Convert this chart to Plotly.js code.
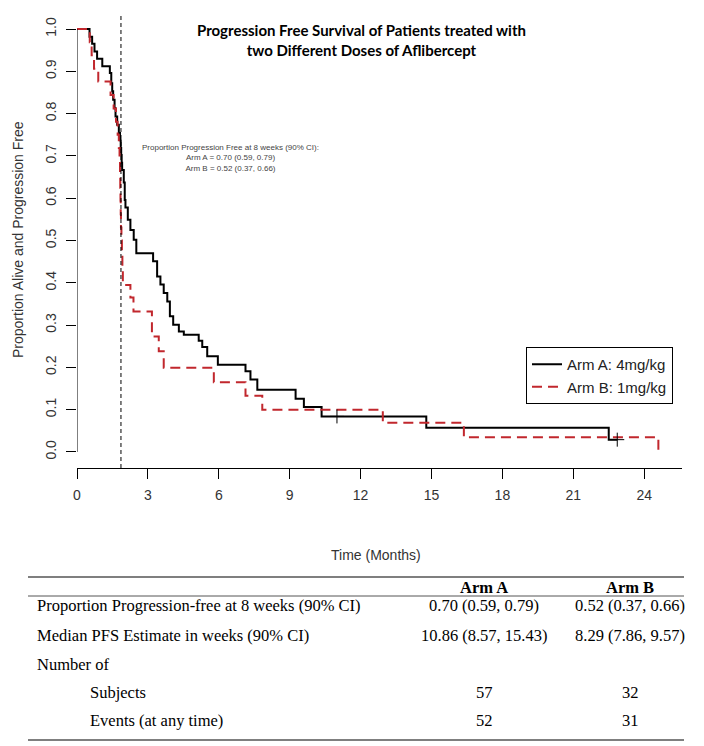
<!DOCTYPE html>
<html>
<head>
<meta charset="utf-8">
<script src="https://cdn.plot.ly/plotly-3.0.1.min.js"></script>
<style>
  body { margin: 0; background: #fff; }
  #chart { width: 704px; height: 746px; }
</style>
</head>
<body>
<div id="chart"></div>
<script>
// Kaplan-Meier step values (months, proportion)
let armA_t = [0, 0.53, 0.64, 0.74, 0.85, 1.07, 1.39, 1.45, 1.49, 1.53, 1.59, 1.63, 1.70, 1.77, 1.82, 1.85, 1.87, 1.89, 1.91, 1.98, 2.02, 2.05, 2.15, 2.26, 2.40, 2.51, 3.22, 3.39, 3.53, 3.67, 3.82, 3.93, 4.07, 4.31, 4.52, 5.15, 5.30, 5.51, 5.96, 7.13, 7.34, 7.63, 9.25, 9.60, 10.35, 14.78, 22.50, 22.86];
let armA_s = [1.0, 0.982, 0.965, 0.947, 0.930, 0.912, 0.896, 0.872, 0.853, 0.833, 0.813, 0.793, 0.774, 0.754, 0.737, 0.719, 0.702, 0.684, 0.667, 0.637, 0.596, 0.578, 0.549, 0.525, 0.502, 0.470, 0.451, 0.415, 0.396, 0.376, 0.356, 0.321, 0.301, 0.285, 0.277, 0.263, 0.248, 0.226, 0.206, 0.191, 0.171, 0.147, 0.126, 0.106, 0.084, 0.057, 0.029, 0.029];

let armB_t = [0, 0.54, 0.62, 0.72, 0.90, 1.42, 1.55, 1.65, 1.72, 1.77, 1.80, 1.82, 1.83, 1.84, 1.85, 1.86, 1.88, 1.90, 1.92, 1.94, 2.26, 2.39, 3.17, 3.46, 3.67, 5.79, 7.13, 7.84, 12.94, 16.37, 24.60];
let armB_s = [1.0, 0.969, 0.938, 0.906, 0.876, 0.844, 0.812, 0.781, 0.750, 0.719, 0.688, 0.656, 0.625, 0.594, 0.562, 0.531, 0.500, 0.469, 0.437, 0.395, 0.365, 0.332, 0.273, 0.238, 0.199, 0.165, 0.133, 0.100, 0.069, 0.035, 0.0];

// censored observations
let censA_t = [11.0, 22.86];
let censA_s = [0.084, 0.029];

let week8 = 1.86;

let xTicks = [0, 3, 6, 9, 12, 15, 18, 21, 24];
let yTicks = [0, 0.1, 0.2, 0.3, 0.4, 0.5, 0.6, 0.7, 0.8, 0.9, 1.0];

// summary table
let rowLabels = ["Proportion Progression-free at 8 weeks (90% CI)", "Median PFS Estimate in weeks (90% CI)", "Number of", "Subjects", "Events (at any time)"];
let rowIndent = [false, false, false, true, true];
let colHeads = ["Arm A", "Arm B"];
let colA = ["0.70 (0.59, 0.79)", "10.86 (8.57, 15.43)", "", "57", "52"];
let colB = ["0.52 (0.37, 0.66)", "8.29 (7.86, 9.57)", "", "32", "31"];

// plot area in pixels
let L = 77, R = 22, T = 13, B = 278;
let W = 704, H = 746;
let pw = W - L - R, ph = H - T - B;
function px(X) { return (X - L) / pw; }
function py(Y) { return (H - B - Y) / ph; }

let traces = [
    {
        x: armA_t, y: armA_s,
        mode: 'lines', type: 'scatter',
        line: {shape: 'hv', color: '#000', width: 2},
        name: 'Arm A: 4mg/kg'
    },
    {
        x: armB_t, y: armB_s,
        mode: 'lines', type: 'scatter',
        line: {shape: 'hv', color: '#c1272d', width: 2, dash: '10px,6px'},
        name: 'Arm B: 1mg/kg'
    },
    {
        x: censA_t, y: censA_s,
        mode: 'markers', type: 'scatter',
        marker: {symbol: 'cross-thin', size: 10, line: {color: '#000', width: 1}},
        showlegend: false, hoverinfo: 'skip'
    }
];

let tickFont = {family: 'Liberation Sans, Arial, sans-serif', size: 14, color: '#333'};
let serif = 'Liberation Serif, Times New Roman, serif';
let tableFont = {family: serif, size: 16.5, color: '#000'};

function note(X, Y, text, extra) {
    let a = {xref: 'paper', yref: 'paper', x: px(X), y: py(Y), text: text,
             showarrow: false, xanchor: 'center', yanchor: 'middle'};
    return Object.assign(a, extra || {});
}

let annotations = [
    note(361, 40, '<b>Progression Free Survival of Patients treated with<br>two Different Doses of Aflibercept</b>',
         {align: 'center', font: {family: 'Lato, sans-serif', size: 15, color: '#000'}}),
    note(230, 158, 'Proportion Progression Free at 8 weeks (90% CI):<br>Arm A = 0.70 (0.59, 0.79)<br>Arm B = 0.52 (0.37, 0.66)',
         {align: 'center', font: {family: 'Liberation Sans, Arial, sans-serif', size: 8, color: '#444'}}),
    note(376, 555, 'Time (Months)', {font: tickFont}),
    note(18, 240, 'Proportion Alive and Progression Free', {textangle: -90, font: tickFont})
];

// table text
let headY = 587;
let rowY = [605, 635, 664, 692, 720];
let colAx = 484, colBx = 630;
annotations.push(note(colAx, headY, '<b>' + colHeads[0] + '</b>', {font: tableFont}));
annotations.push(note(colBx, headY, '<b>' + colHeads[1] + '</b>', {font: tableFont}));
for (let i = 0; i < rowLabels.length; i++) {
    annotations.push(note(rowIndent[i] ? 88 : 35, rowY[i], rowLabels[i], {xanchor: 'left', font: tableFont}));
    if (colA[i] !== "") {
        annotations.push(note(colAx, rowY[i], colA[i], {font: tableFont}));
        annotations.push(note(colBx, rowY[i], colB[i], {font: tableFont}));
    }
}

let shapes = [
    // 8-week reference line
    {type: 'line', xref: 'x', yref: 'paper', x0: week8, x1: week8, y0: 0, y1: 1, line: {color: '#000', width: 1, dash: '4px,3px'}},
    // y axis line, only between first and last tick
    {type: 'line', xref: 'x', yref: 'y', x0: 0, x1: 0, y0: 0, y1: 1, line: {color: '#000', width: 1}},
    // table rules
    {type: 'line', xref: 'paper', yref: 'paper', x0: px(28), x1: px(684), y0: py(577), y1: py(577), line: {color: '#555', width: 1.5}},
    {type: 'line', xref: 'paper', yref: 'paper', x0: px(28), x1: px(684), y0: py(596), y1: py(596), line: {color: '#555', width: 1}},
    {type: 'line', xref: 'paper', yref: 'paper', x0: px(28), x1: px(684), y0: py(740), y1: py(740), line: {color: '#555', width: 1.5}}
];

let layout = {
    width: W, height: H,
    margin: {l: L, r: R, t: T, b: B},
    paper_bgcolor: '#fff', plot_bgcolor: '#fff',
    showlegend: true,
    legend: {
        x: px(526), y: py(347), xanchor: 'left', yanchor: 'top',
        bordercolor: '#000', borderwidth: 1, bgcolor: '#fff',
        font: {family: 'Liberation Sans, Arial, sans-serif', size: 15, color: '#222'}
    },
    xaxis: {
        range: [0, 25.6], tickvals: xTicks, ticktext: xTicks.map(String),
        showgrid: false, zeroline: false, showline: true, linecolor: '#000', linewidth: 1,
        ticks: 'outside', ticklen: 10, tickcolor: '#000', ticklabelstandoff: 4,
        tickfont: tickFont
    },
    yaxis: {
        range: [-0.038, 1.038], tickvals: yTicks, ticktext: yTicks.map(v => v.toFixed(1)),
        showgrid: false, zeroline: false, showline: false,
        ticks: 'outside', ticklen: 10, tickcolor: '#000', tickangle: -90, ticklabelstandoff: 4,
        tickfont: tickFont
    },
    annotations: annotations,
    shapes: shapes
};

Plotly.newPlot('chart', traces, layout, {staticPlot: true});
</script>
</body>
</html>
